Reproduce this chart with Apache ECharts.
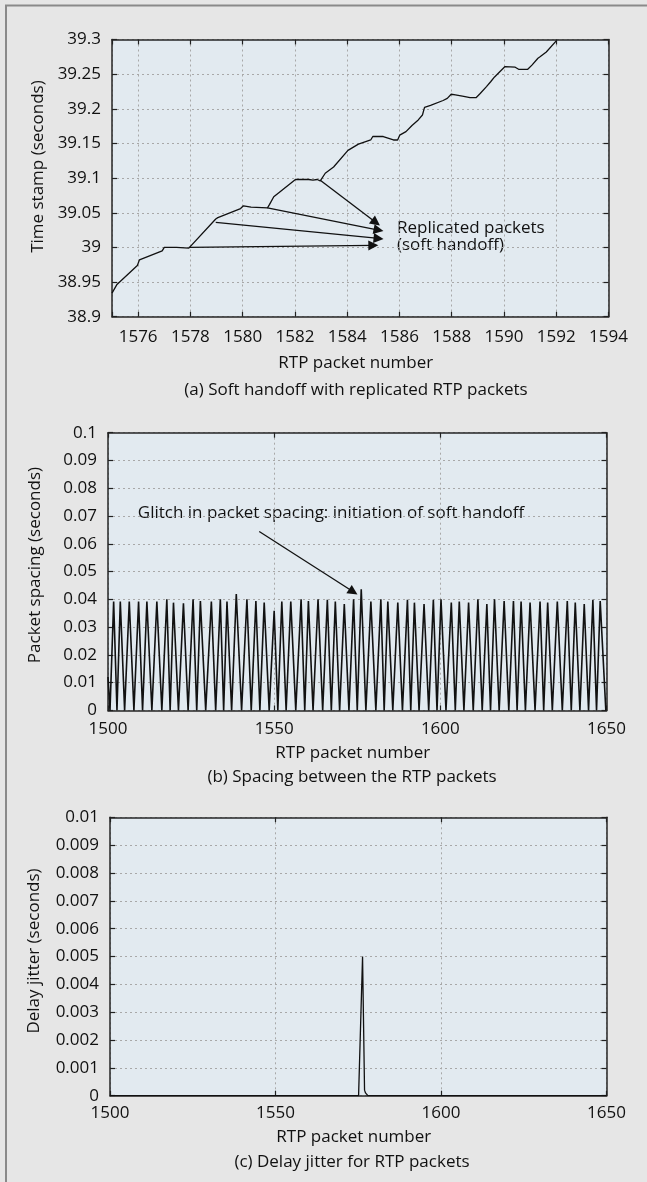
<!DOCTYPE html>
<html>
<head>
<meta charset="utf-8">
<script src="https://cdn.jsdelivr.net/npm/echarts@6/dist/echarts.min.js"></script>
<style>
  html, body { margin: 0; padding: 0; background: #e6e6e6; }
  #chart { width: 647px; height: 1182px; }
</style>
</head>
<body>
<div id="chart"></div>
<script>
// (a) time stamp vs RTP packet number
const timeX = [1575.0, 1575.18, 1575.97, 1576.05, 1576.92, 1577.0, 1577.47, 1577.5, 1577.94, 1578.97,
  1579.05, 1579.92, 1580.03, 1580.32, 1580.95, 1581.03, 1581.19, 1581.42, 1582.02, 1582.53,
  1582.69, 1582.85, 1582.97, 1583.16, 1583.48, 1584.03, 1584.43, 1584.9, 1584.98, 1585.38,
  1585.77, 1585.93, 1586.01, 1586.25, 1586.48, 1586.72, 1586.88, 1586.96, 1587.19, 1587.67,
  1587.83, 1587.98, 1588.14, 1588.46, 1588.7, 1588.93, 1589.09, 1589.33, 1589.49, 1589.64,
  1590.04, 1590.43, 1590.56, 1590.91, 1591.07, 1591.3, 1591.38, 1591.62, 1592.0]
const timeY = [38.934, 38.946, 38.974, 38.982, 38.995, 39.0, 39.0, 38.9986, 38.999, 39.041,
  39.043, 39.056, 39.06, 39.058, 39.057, 39.062, 39.073, 39.08, 39.098, 39.098,
  39.097, 39.098, 39.096, 39.107, 39.116, 39.14, 39.149, 39.155, 39.16, 39.16,
  39.155, 39.155, 39.162, 39.167, 39.176, 39.184, 39.191, 39.202, 39.205, 39.212,
  39.215, 39.221, 39.22, 39.218, 39.216, 39.216, 39.222, 39.232, 39.239, 39.246,
  39.261, 39.26, 39.257, 39.257, 39.263, 39.273, 39.275, 39.282, 39.298]

// replicated packets arrows (start on the curve -> end near the note)
const replFromX = [1577.94, 1578.97, 1580.95, 1582.97]
const replFromY = [39.0, 39.036, 39.057, 39.097]
const replToX = [1585.0, 1585.2, 1585.2, 1585.1]
const replToY = [39.003, 39.013, 39.025, 39.036]

// (b) packet spacing: start point, peaks and the zero valleys between them
const spacingStartX = 1500
const spacingStartY = 0.012
const peakX = [1501.7, 1503.7, 1506.4, 1509.2, 1511.7, 1514.7, 1517.7, 1519.7, 1522.7, 1525.6,
  1527.8, 1531.1, 1533.8, 1535.8, 1538.6, 1541.8, 1544.5, 1547.0, 1550.0, 1552.3,
  1555.0, 1558.1, 1560.3, 1563.2, 1566.0, 1568.4, 1571.1, 1573.9, 1576.2, 1579.1,
  1582.1, 1584.2, 1587.2, 1590.1, 1592.2, 1595.1, 1597.9, 1600.2, 1603.3, 1605.7,
  1608.5, 1611.3, 1614.0, 1616.3, 1619.2, 1622.0, 1624.3, 1627.0, 1630.0, 1632.3,
  1635.2, 1638.2, 1640.6, 1643.3, 1645.9, 1648.1]
const peakY = [0.0392, 0.0392, 0.0392, 0.0392, 0.0392, 0.0392, 0.04, 0.0388, 0.0386, 0.04,
  0.0394, 0.0392, 0.04, 0.0392, 0.0419, 0.04, 0.0394, 0.0388, 0.0359, 0.0392,
  0.0392, 0.04, 0.0394, 0.04, 0.0398, 0.0392, 0.0383, 0.04, 0.0436, 0.0392,
  0.04, 0.0392, 0.0388, 0.0398, 0.0388, 0.0383, 0.0398, 0.04, 0.0388, 0.0392,
  0.0388, 0.04, 0.0383, 0.04, 0.0394, 0.0394, 0.0392, 0.0388, 0.0392, 0.0388,
  0.0392, 0.0394, 0.0388, 0.0383, 0.0398, 0.0394]
const valleyX = [1500.6, 1502.7, 1505.0, 1507.8, 1510.4, 1513.2, 1516.2, 1518.7, 1521.2, 1524.1,
  1526.7, 1529.4, 1532.4, 1534.8, 1537.2, 1540.2, 1543.1, 1545.7, 1548.5, 1551.1,
  1553.6, 1556.5, 1559.2, 1561.7, 1564.6, 1567.2, 1569.7, 1572.5, 1575.0, 1577.6,
  1580.6, 1583.1, 1585.7, 1588.6, 1591.1, 1593.6, 1596.5, 1599.0, 1601.7, 1604.5,
  1607.1, 1609.9, 1612.6, 1615.1, 1617.7, 1620.6, 1623.1, 1625.6, 1628.5, 1631.1,
  1633.7, 1636.7, 1639.4, 1642.0, 1644.6, 1647.0, 1649.8]
const glitchFrom = [1545.5, 0.0644]
const glitchTo = [1573.8, 0.0427]

// (c) delay jitter
const jitterX = [1500, 1575.1, 1576.3, 1576.9, 1577.2, 1577.9, 1650]
const jitterY = [0, 0, 0.005, 0.0002, 0.0001, 0, 0]

const FONT = 'Open Sans'
const TXT = '#111'
const LINE = '#111'

const chart = echarts.init(document.getElementById('chart'), null, { renderer: 'canvas' })

const grids = [
  { left: 112, top: 39.5, width: 496.5, height: 277.2 },
  { left: 108, top: 432.7, width: 498.5, height: 277.7 },
  { left: 110, top: 817.3, width: 496.5, height: 278.4 }
]

const tickStyle = { show: true, inside: true, length: 5, lineStyle: { color: '#222', width: 1.2 } }
const frameLine = { show: true, onZero: false, lineStyle: { color: '#262626', width: 1.5 } }
const gridLine = { show: true, lineStyle: { color: '#a8a8a8', width: 1, type: [2, 3] } }
const label = (margin, formatter) => ({
  fontFamily: FONT, fontSize: 17, color: TXT, margin, formatter
})
const plain = v => String(v)

// build a pair of x axes (bottom with labels, top mirrored ticks)
const xPair = (gridIndex, range, margin, nameGap, formatter) => {
  const base = { type: 'value', gridIndex, ...range }
  return [
    {
      ...base, position: 'bottom',
      axisLine: frameLine, axisTick: tickStyle, splitLine: gridLine,
      axisLabel: label(margin, formatter),
      name: 'RTP packet number', nameLocation: 'middle', nameGap,
      nameTextStyle: { fontFamily: FONT, fontSize: 17, color: TXT, padding: [0, 9, 0, 0] }
    },
    {
      ...base, position: 'top',
      axisLine: frameLine, axisTick: tickStyle, splitLine: { show: false },
      axisLabel: { show: false }
    }
  ]
}
const yPair = (gridIndex, range, name, nameGap, shift) => {
  const base = { type: 'value', gridIndex, ...range }
  return [
    {
      ...base, position: 'left',
      axisLine: frameLine, axisTick: tickStyle, splitLine: gridLine,
      axisLabel: label(11, plain),
      name, nameLocation: 'middle', nameGap,
      nameTextStyle: { fontFamily: FONT, fontSize: 17, color: TXT, padding: [0, 0, 0, shift] }
    },
    {
      ...base, position: 'right',
      axisLine: frameLine, axisTick: tickStyle, splitLine: { show: false },
      axisLabel: { show: false }
    }
  ]
}

const arrowLines = (pairs) => ({
  silent: true,
  animation: false,
  symbol: ['none', 'triangle'],
  symbolSize: 10,
  label: { show: false },
  lineStyle: { color: LINE, width: 1.3, type: 'solid' },
  emphasis: { disabled: true },
  data: pairs.map(([a, b]) => [{ coord: a }, { coord: b }])
})

const spacingData = [[spacingStartX, spacingStartY]]
valleyX.forEach((x, k) => {
  spacingData.push([x, 0])
  if (k < peakX.length) spacingData.push([peakX[k], peakY[k]])
})

const text = (str, x, y, align) => ({
  type: 'text', x, y, silent: true,
  style: {
    text: str, font: '17px "Open Sans"', fill: TXT,
    textAlign: align || 'center', textVerticalAlign: 'middle',
    align: align || 'center', verticalAlign: 'middle'
  }
})

const option = {
  animation: false,
  backgroundColor: '#e6e6e6',
  textStyle: { fontFamily: FONT },
  grid: grids.map(g => ({ ...g, show: true, backgroundColor: '#e2eaf0', borderWidth: 0, outerBoundsMode: 'none' })),
  xAxis: [
    ...xPair(0, { min: 1575, max: 1594, minInterval: 2, maxInterval: 2 }, 12, 38,
      v => (v % 2 === 0 ? String(v) : '')),
    ...xPair(1, { min: 1500, max: 1650, interval: 50 }, 10, 34, plain),
    ...xPair(2, { min: 1500, max: 1650, interval: 50 }, 9, 33, plain)
  ],
  yAxis: [
    ...yPair(0, { min: 38.9, max: 39.3, interval: 0.05 }, 'Time stamp (seconds)', 64, 23),
    ...yPair(1, { min: 0, max: 0.1, interval: 0.01 }, 'Packet spacing (seconds)', 64, 13),
    ...yPair(2, { min: 0, max: 0.01, interval: 0.001 }, 'Delay jitter (seconds)', 67, 11)
  ],
  series: [
    {
      name: 'Time stamp', type: 'line', xAxisIndex: 0, yAxisIndex: 0,
      data: timeX.map((x, k) => [x, timeY[k]]),
      symbol: 'none', lineStyle: { color: LINE, width: 1.3 },
      markLine: arrowLines(replFromX.map((x, k) => [[x, replFromY[k]], [replToX[k], replToY[k]]]))
    },
    {
      name: 'Packet spacing', type: 'line', xAxisIndex: 2, yAxisIndex: 2,
      data: spacingData,
      symbol: 'none', lineStyle: { color: LINE, width: 1.6 },
      markLine: arrowLines([[glitchFrom, glitchTo]])
    },
    {
      name: 'Delay jitter', type: 'line', xAxisIndex: 4, yAxisIndex: 4,
      data: jitterX.map((x, k) => [x, jitterY[k]]),
      symbol: 'none', lineStyle: { color: LINE, width: 1.3 }
    }
  ],
  graphic: [
    {
      type: 'polyline', silent: true,
      shape: { points: [[6, 1182], [6, 5.5], [647, 5.5]] },
      style: { stroke: '#8a8a8a', lineWidth: 2, fill: null }
    },
    text('Replicated packets', 397, 228, 'left'),
    text('(soft handoff)', 397, 245, 'left'),
    text('Glitch in packet spacing: initiation of soft handoff', 331, 513),
    text('(a) Soft handoff with replicated RTP packets', 356, 390),
    text('(b) Spacing between the RTP packets', 352, 777),
    text('(c) Delay jitter for RTP packets', 352, 1162)
  ]
}

chart.setOption(option)
</script>
</body>
</html>
